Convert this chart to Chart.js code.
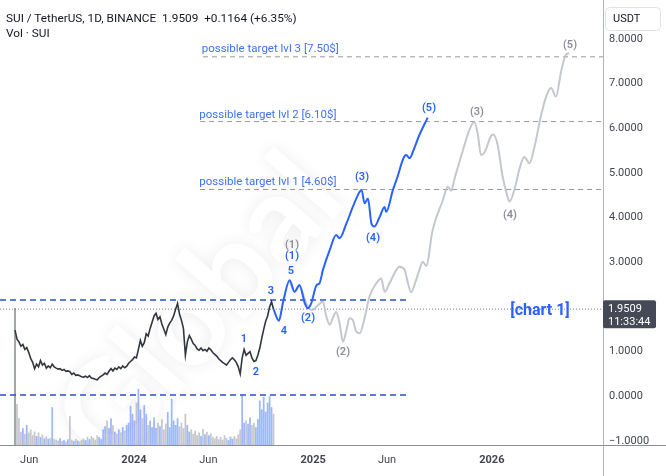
<!DOCTYPE html>
<html><head><meta charset="utf-8">
<script src="https://cdn.jsdelivr.net/npm/chart.js@4.4.1/dist/chart.umd.min.js"></script>
<style>
html,body{margin:0;padding:0;background:#fff;width:666px;height:476px;overflow:hidden}
#wrap{position:relative;width:666px;height:476px}
canvas{position:absolute;left:0;top:0}
.hdr{position:absolute;left:6px;color:#131722;font:11.8px Roboto,"Liberation Sans",sans-serif;white-space:pre;line-height:14px}
</style></head><body>
<div id="wrap"><canvas id="c" width="666" height="476"></canvas>
<div class="hdr" style="top:11px">SUI / TetherUS, 1D, BINANCE  1.9509  +0.1164 (+6.35%)</div>
<div class="hdr" style="top:26px">Vol · SUI</div>
</div>
<script>
// ---- data (x = days relative to 2024-01-01) ----
const START_DAY = -243;   // 2023-05-03
const STEP_DAYS = 4;
const priceClose = [
1.48,1.28,1.22,1.12,1.16,1.05,1.09,0.98,0.85,0.76,
0.62,0.72,0.66,0.80,0.70,0.74,0.63,0.68,0.64,0.72,
0.66,0.63,0.61,0.62,0.58,0.60,0.56,0.57,0.55,0.49,
0.52,0.47,0.48,0.46,0.44,0.43,0.45,0.42,0.46,0.41,
0.40,0.38,0.37,0.42,0.45,0.48,0.52,0.49,0.56,0.62,
0.57,0.63,0.60,0.66,0.62,0.68,0.64,0.67,0.74,0.78,
0.82,0.88,0.86,1.05,1.25,1.12,1.20,1.40,1.35,1.52,
1.66,1.80,1.86,1.72,1.78,1.62,1.50,1.38,1.55,1.64,
1.70,1.80,1.95,2.08,1.84,1.70,1.52,0.92,1.22,1.36,
1.28,1.18,1.14,1.06,1.03,1.08,1.02,1.05,1.01,1.08,
1.04,0.98,0.94,0.90,0.84,0.80,0.76,0.73,0.70,0.76,
0.82,0.86,0.82,0.76,0.66,0.50,0.86,1.05,0.92,0.96,
1.00,0.86,0.78,0.80,0.92,1.08,1.30,1.50,1.68,1.80,
2.00,2.12,1.95];
const volumeM = [
308,92,60,
30,38,25,45,28,35,22,30,
20,28,18,24,15,20,14,16,85,14,
12,10,15,9,11,8,13,65,12,9,14,10,8,12,
15,11,18,13,20,16,12,22,18,14,
35,42,55,38,60,45,
30,25,35,28,40,32,45,
50,88,70,55,95,126,80,60,90,70,45,
55,40,62,38,50,42,58,35,
48,74,40,104,55,45,60,42,50,38,70,45,
30,35,25,32,22,28,20,36,24,30,22,26,18,
15,20,13,18,12,22,16,11,19,14,20,15,24,
35,112,50,55,48,62,45,50,40,58,100,80,108,75,95,110,85,70];
const lastPrice = 1.9509;

const blueDays = [285,296,304,318,328,338,349,355,362,373,379,386,400,413,420,434,447,461,465,471,478,485,491,502,512,515,529,536,556,563,570,583,600];
const blueValues = [1.95,1.69,2.08,2.60,2.34,2.49,2.08,1.97,2.08,2.49,2.53,2.83,3.28,3.61,3.54,3.87,4.24,4.58,4.62,4.32,4.43,3.87,3.80,4.02,4.24,4.13,4.62,4.84,5.40,5.33,5.48,5.85,6.24];

const greyDays = [318,328,338,351,363,376,386,393,400,406,413,420,427,434,440,447,454,461,471,481,495,505,512,522,536,542,553,559,566,575,583,590,597,610,631,641,648,655,672,685,695,702,709,718,728,734,743,753,763,767,777,787,797,808,818,831,842,852,862,873,882,889];
const greyValues = [2.60,2.34,2.47,2.11,1.93,2.04,2.12,1.78,1.60,1.75,1.89,1.63,1.22,1.48,1.75,1.71,1.45,1.41,1.75,2.23,2.53,2.64,2.34,2.53,2.83,2.90,2.83,2.56,2.33,2.56,2.83,3.01,2.92,3.72,4.39,4.69,4.60,4.88,5.51,5.96,6.14,5.89,5.40,5.50,5.80,5.86,5.62,4.92,4.47,4.36,4.62,5.07,5.36,5.22,5.58,6.26,6.71,6.90,6.71,7.30,7.64,7.68];

const rangeLevels = [2.156, 0.03];
const rangeEndDay = 557;
const targetLevels = [7.60, 6.15, 4.63];
const targetStartDays = [141, 135, 135];
const targetTexts = ['possible target lvl 3 [7.50$]','possible target lvl 2 [6.10$]','possible target lvl 1 [4.60$]'];

const xTickDays = [-214, 0, 152, 366, 517, 731];
const xTickLabels = ['Jun','2024','Jun','2025','Jun','2026'];
const yTickValues = [-1,0,1,2,3,4,5,6,7,8];

// annotations: text, day, value, kind
const waveLabels = [
 ['1',224.7,1.28,'b'],['2',249.2,0.54,'b'],['3',279.9,2.36,'b'],['4',306.4,1.46,'b'],['5',320.7,2.81,'b'],
 ['(1)',322.8,3.14,'b'],['(1)',322.8,3.39,'g'],['(2)',355.5,1.75,'b'],['(2)',427,0.99,'g'],
 ['(3)',465.8,4.91,'b'],['(4)',488.3,3.54,'b'],['(5)',602.7,6.45,'b'],
 ['(3)',700.7,6.36,'g'],['(4)',768.1,4.06,'g'],['(5)',890.7,7.86,'g']
];
const targetTextPos = [[138.3,7.77],[133.4,6.30],[133.4,4.80]];
const chartTag = ['[chart 1]', 829.4, 1.91];

// ---- build ----
const XMIN = -273.7, XMAX = 958.1, YMIN = -1.09, YMAX = 8.872;
const BLUE = '#2962ff', GREYL = '#8c8f99';
const FONT = 'Roboto, "Liberation Sans", sans-serif';
const xs = priceClose.map((_, i) => START_DAY + STEP_DAYS * i);
const volColors = priceClose.map((v, i) => i === 0 ? 'rgba(120,123,134,0.75)' :
  (v >= priceClose[i-1] ? 'rgba(41,98,255,0.45)' : 'rgba(120,123,134,0.42)'));

function hline(y, x0, x1, color, dash, w, order) {
  return {type:'line', data:[{x:x0,y:y},{x:x1,y:y}], borderColor:color, borderDash:dash, borderWidth:w,
    pointRadius:0, fill:false, order:order, yAxisID:'y'};
}
const datasets = [
  {type:'bar', data: volumeM.map((v,i)=>({x:xs[i], y:v})), backgroundColor: volColors, yAxisID:'vol',
   barPercentage:1, categoryPercentage:0.9, order:20},
  hline(lastPrice, XMIN, XMAX, '#787b86', [1,2], 1, 15),
  ...rangeLevels.map(l => hline(l, XMIN, rangeEndDay, '#2a50c8', [6,4], 1.5, 14)),
  ...targetLevels.map((l,i) => hline(l, targetStartDays[i], XMAX, '#9598a1', [5,4], 1, 13)),
  {type:'line', data: greyDays.map((d,i)=>({x:d,y:greyValues[i]})), borderColor:'rgba(190,193,201,0.9)', borderWidth:2,
   pointRadius:0, cubicInterpolationMode:'monotone', order:8, yAxisID:'y'},
  {type:'line', data: priceClose.map((v,i)=>({x:xs[i],y:v})), borderColor:'#33363f', borderWidth:1.6,
   pointRadius:0, tension:0, order:5, yAxisID:'y'},
  {type:'line', data: blueDays.map((d,i)=>({x:d,y:blueValues[i]})), borderColor:BLUE, borderWidth:2,
   pointRadius:0, cubicInterpolationMode:'monotone', order:2, yAxisID:'y'}
];

const overlay = {
  id:'overlay',
  beforeDatasetsDraw(chart) {
    const ctx = chart.ctx;
    ctx.save();
    ctx.beginPath(); ctx.rect(0,0,603,445); ctx.clip();
    ctx.translate(200, 310); ctx.rotate(-0.85);
    ctx.font = 'bold 125px Lato, sans-serif';
    ctx.textAlign = 'center'; ctx.textBaseline = 'middle';
    ctx.shadowColor = 'rgba(0,0,0,0.08)'; ctx.shadowBlur = 16;
    ctx.fillStyle = '#ffffff';
    ctx.fillText('Global', 0, 0);
    ctx.restore();
  },
  afterDraw(chart) {
    const ctx = chart.ctx, sx = chart.scales.x, sy = chart.scales.y;
    ctx.save();
    ctx.strokeStyle = '#b2b5be'; ctx.lineWidth = 1;
    ctx.beginPath(); ctx.moveTo(603.5, 0); ctx.lineTo(603.5, 476); ctx.stroke();
    ctx.strokeStyle = '#8a8d96';
    ctx.beginPath(); ctx.moveTo(0, 445.5); ctx.lineTo(666, 445.5); ctx.stroke();
    ctx.textAlign = 'center'; ctx.textBaseline = 'middle';
    waveLabels.forEach(([t,d,v,k]) => {
      ctx.font = '600 11px ' + FONT;
      ctx.fillStyle = k === 'b' ? BLUE : GREYL;
      ctx.fillText(t, sx.getPixelForValue(d), sy.getPixelForValue(v));
    });
    ctx.textAlign = 'left';
    ctx.font = '11.5px ' + FONT;
    ctx.fillStyle = '#3f72f5';
    targetTexts.forEach((t,i) => ctx.fillText(t, sx.getPixelForValue(targetTextPos[i][0]), sy.getPixelForValue(targetTextPos[i][1])));
    ctx.textAlign = 'center';
    ctx.font = 'bold 16px ' + FONT;
    ctx.fillStyle = '#2962ff';
    ctx.fillText(chartTag[0], sx.getPixelForValue(chartTag[1]), sy.getPixelForValue(chartTag[2]));
    const py = sy.getPixelForValue(lastPrice);
    ctx.fillStyle = '#454955';
    ctx.beginPath(); ctx.roundRect(603, py - 9, 53, 28, 2); ctx.fill();
    ctx.fillStyle = '#ffffff'; ctx.textAlign = 'left';
    ctx.font = '11px ' + FONT;
    ctx.fillText('1.9509', 608, py);
    ctx.fillText('11:33:44', 608, py + 13);
    ctx.fillStyle = '#ffffff'; ctx.strokeStyle = '#e0e3eb';
    ctx.beginPath(); ctx.roundRect(605.5, 7.5, 55, 23, 4); ctx.fill(); ctx.stroke();
    ctx.fillStyle = '#131722';
    ctx.fillText('USDT', 613, 19);
    ctx.restore();
  }
};

new Chart(document.getElementById('c'), {
  type:'line',
  data: {datasets},
  options: {
    responsive:false, animation:false, devicePixelRatio:1,
    layout:{padding:0},
    plugins:{legend:{display:false}, tooltip:{enabled:false}},
    scales:{
      x:{type:'linear', offset:false, min:XMIN, max:XMAX, position:'bottom',
        grid:{display:false, drawTicks:false}, border:{display:false},
        afterBuildTicks: s => { s.ticks = xTickDays.map(v => ({value:v})); },
        afterFit: s => { s.height = 31; s.paddingLeft = 0; s.paddingRight = 0; },
        ticks:{autoSkip:false, maxRotation:0, padding:9, color:'#434651',
          callback:(v,i) => xTickLabels[i],
          font:(c) => ({family:FONT, size:11,
            weight: (c.tick && [0,366,731].includes(c.tick.value)) ? 'bold' : 'normal'})}},
      y:{type:'linear', position:'right', offset:false, min:YMIN, max:YMAX,
        grid:{display:false, drawTicks:false}, border:{display:false},
        afterBuildTicks: s => { s.ticks = yTickValues.map(v => ({value:v})); },
        afterFit: s => { s.width = 63; s.paddingTop = 0; s.paddingBottom = 0; },
        ticks:{padding:6, color:'#434651', font:{family:FONT, size:11},
          callback: v => (v < 0 ? '\u2212' + Math.abs(v).toFixed(4) : v.toFixed(4))}},
      vol:{type:'linear', display:false, min:0, max:1000}
    }
  },
  plugins:[overlay]
});
</script>
</body></html>
